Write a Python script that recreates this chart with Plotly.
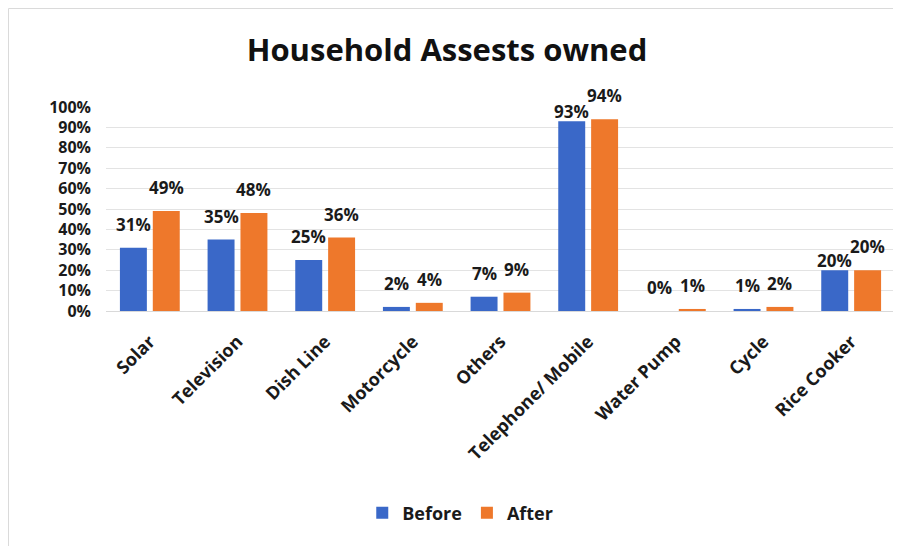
import plotly.graph_objects as go

categories = ["Solar", "Television", "Dish Line", "Motorcycle", "Others",
              "Telephone/ Mobile", "Water Pump", "Cycle", "Rice Cooker"]
before = [0.31, 0.35, 0.25, 0.02, 0.07, 0.93, 0.00, 0.01, 0.20]
after = [0.49, 0.48, 0.36, 0.04, 0.09, 0.94, 0.01, 0.02, 0.20]
y_ticks = [0, 0.1, 0.2, 0.3, 0.4, 0.5, 0.6, 0.7, 0.8, 0.9, 1.0]

FONT = "Open Sans"
W, H = 893, 538            # page body adds an 8px offset in the viewer
ML, MR, MT, MB = 98, 6, 99, 235
BARGAP, GROUPGAP = 0.25, 0.18
plot_w = W - ML - MR
cat_w = plot_w / len(categories)
half_slot = cat_w * (1 - BARGAP) / 4   # distance from category centre to bar centre

label_font = dict(family=FONT, size=17, color="#1a1a1a", weight="bold")
# Before-labels that sit lower in the reference (staggered against their neighbour)
lowered_before = {"Telephone/ Mobile", "Rice Cooker"}

fig = go.Figure()
fig.add_trace(go.Bar(name="Before", x=categories, y=before,
                     marker=dict(color="#3A68C8", line=dict(width=0))))
fig.add_trace(go.Bar(name="After", x=categories, y=after,
                     marker=dict(color="#EE782B", line=dict(width=0))))

annotations = []
for cat, vb, va in zip(categories, before, after):
    annotations.append(dict(x=cat, y=vb, xref="x", yref="y", text=f"{vb:.0%}",
                            showarrow=False, yanchor="bottom", xanchor="center",
                            xshift=-half_slot, yshift=-4 if cat in lowered_before else 10,
                            font=label_font))
    annotations.append(dict(x=cat, y=va, xref="x", yref="y", text=f"{va:.0%}",
                            showarrow=False, yanchor="bottom", xanchor="center",
                            xshift=half_slot, yshift=10, font=label_font))

fig.update_layout(
    width=W, height=H,
    margin=dict(l=ML, r=MR, t=MT, b=MB),
    paper_bgcolor="white", plot_bgcolor="white",
    barmode="group", bargap=BARGAP, bargroupgap=GROUPGAP,
    title=dict(text="<b>Household Assests owned</b>", x=(447 - 8) / W, xanchor="center",
               y=1 - 42 / H, yref="container", yanchor="middle",
               font=dict(family=FONT, size=31, color="#111111")),
    showlegend=True,
    legend=dict(orientation="h", x=0.449, xanchor="center", y=-0.99, yanchor="middle",
                xref="paper", yref="paper",
                font=dict(family=FONT, size=18, color="#1a1a1a", weight="bold"),
                itemwidth=30, traceorder="normal"),
    font=dict(family=FONT),
    annotations=annotations,
)
fig.update_yaxes(range=[0, 1.0], tickvals=y_ticks, tickformat=".0%",
                 showgrid=True, gridcolor="#E3E3E3", gridwidth=1,
                 zeroline=False, showline=False,
                 tickfont=dict(family=FONT, size=16, color="#1a1a1a", weight="bold"),
                 ticklabelstandoff=14)
fig.update_xaxes(tickangle=-45, showline=True, linecolor="#D9D9D9", linewidth=1,
                 tickfont=dict(family=FONT, size=18, color="#1a1a1a", weight="bold"),
                 ticklabelstandoff=12)

# outer chart frame (top and left edges visible in reference)
plot_h = H - MT - MB
fy_top = (plot_h + MT - 0.5) / plot_h
fx_left = -(ML - 0.5) / plot_w
fig.add_shape(type="line", xref="paper", yref="paper", x0=fx_left, x1=1.0, y0=fy_top, y1=fy_top,
              line=dict(color="#DADADA", width=1))
fig.add_shape(type="line", xref="paper", yref="paper", x0=fx_left, x1=fx_left, y0=fy_top, y1=-MB / plot_h,
              line=dict(color="#DADADA", width=1))

fig.write_html("out.html")
